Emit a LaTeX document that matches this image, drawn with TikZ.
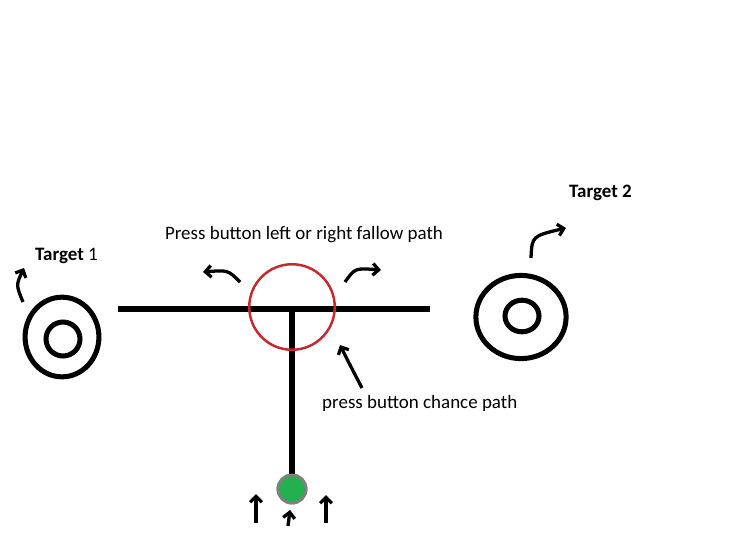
\documentclass[tikz,border=0pt]{standalone}
\usepackage{fontspec}
\setmainfont{Carlito}
\usepackage{xcolor}
\usepackage{tikz}
\usetikzlibrary{shapes.geometric, arrows.meta, positioning}
\definecolor{myink}{RGB}{0,0,0}
\definecolor{myred}{RGB}{200,40,45}
\definecolor{mygreen}{RGB}{34,177,76}
\definecolor{mygray}{RGB}{127,127,127}
\tikzset{
  ring/.style={ellipse, draw=myink, line width=4.3pt, inner sep=0pt},
  track/.style={draw=myink, line width=4.3pt},
  picker/.style={circle, draw=myred, line width=2.1pt, inner sep=0pt, minimum size=73pt},
  ball/.style={circle, draw=mygray, fill=mygreen, line width=2.4pt, inner sep=0pt, minimum size=24pt},
  hint/.style={-{Straight Barb[length=5pt, width=10pt, line width=2.8pt]}, line width=2.8pt, color=myink},
  lbl/.style={font=\fontsize{16.2}{19}\selectfont, inner sep=0pt}
}

\begin{document}
\begin{tikzpicture}[x=0.03cm, y=-0.03cm]
  \useasboundingbox (0,0) rectangle (755,550);

  % Targets
  \node[ring, minimum width=63pt, minimum height=68pt] (t1out) at (62,337) {};
  \node[ring, minimum width=29pt, minimum height=29pt] (t1in) at (63,339) {};
  \node[ring, minimum width=77pt, minimum height=71pt] (t2out) at (521,317) {};
  \node[ring, minimum width=29pt, minimum height=27pt] (t2in) at (522,316) {};
  \node[lbl, anchor=west] (t1lbl) at (35,256) {\textbf{Target} 1};
  \node[lbl, anchor=west] (t2lbl) at (569,193) {\textbf{Target 2}};

  % Track
  \coordinate (lend) at (118,309);
  \coordinate (rend) at (430,309);
  \coordinate (fork) at (292,309);
  \node[ball] (start) at (292,489) {};
  \draw[track] (lend) -- (rend);
  \draw[track] (fork) -- (start.center);
  \node[ball] at (start) {};
  \node[picker] (pick) at (292,307) {};

  % Labels
  \node[lbl] (toplbl) at (304,235) {Press button left or right fallow path};
  \node[lbl, anchor=west] (chlbl) at (322,403) {press button chance path};

  % Hint arrows
  \coordinate (a1s) at (23,302);
  \coordinate (a1e) at (24,268);
  \draw[hint] (a1s) .. controls (16,285) .. (a1e);
  \coordinate (a2s) at (531,258);
  \coordinate (a2e) at (566,228);
  \draw[hint] (a2s) .. controls (532,236) .. (a2e);
  \coordinate (als) at (240,282);
  \coordinate (ale) at (203,272);
  \draw[hint] (als) .. controls (228,270) .. (ale);
  \coordinate (ars) at (345,282);
  \coordinate (are) at (381,270);
  \draw[hint] (ars) .. controls (355,268) .. (are);
  \coordinate (chs) at (362,388);
  \coordinate (che) at (340,345);
  \draw[hint] (chs) .. controls (350,365) .. (che);
  \coordinate (b1s) at (256,523);
  \coordinate (b1e) at (256,494);
  \draw[hint] (b1s) -- (b1e);
  \coordinate (b2s) at (288,526);
  \coordinate (b2e) at (290,510);
  \draw[hint] (b2s) -- (b2e);
  \coordinate (b3s) at (326,523);
  \coordinate (b3e) at (326,495);
  \draw[hint] (b3s) -- (b3e);
\end{tikzpicture}
\end{document}
